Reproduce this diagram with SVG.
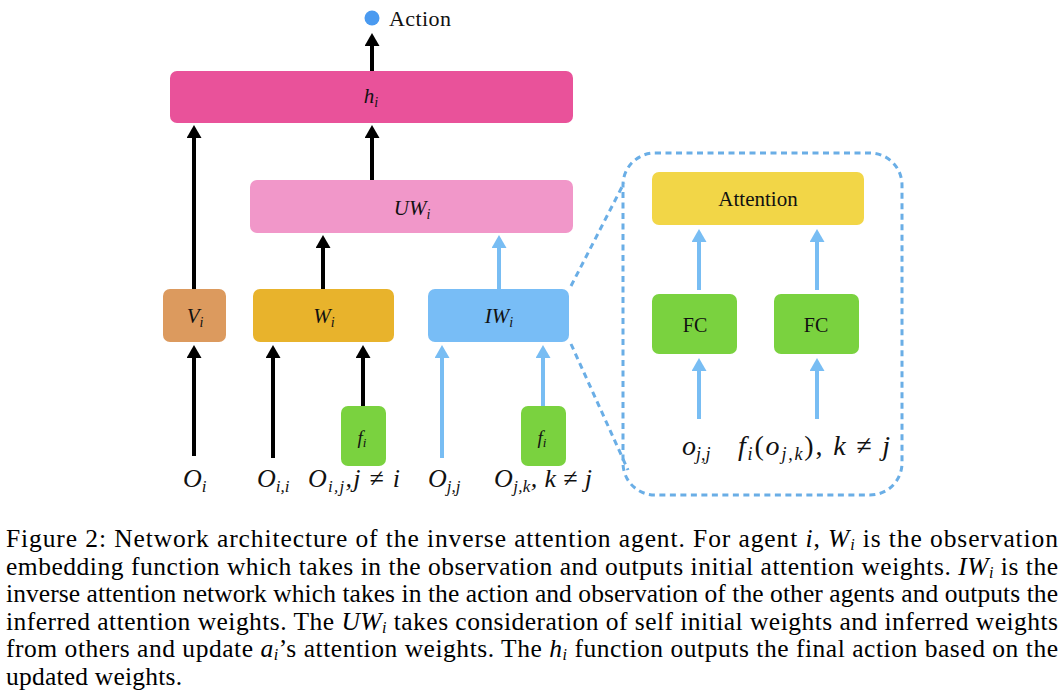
<svg xmlns="http://www.w3.org/2000/svg" width="1061" height="700" viewBox="0 0 1061 700">
<style>
.box{stroke:none}
.lbl{font-family:"Liberation Serif","Times New Roman",serif;font-style:italic;fill:#111}
.rom{font-family:"Liberation Serif","Times New Roman",serif;fill:#111}
.cap{font-family:"Liberation Serif","Times New Roman",serif;font-size:25.5px;fill:#000}
.it{font-style:italic}
.blk{stroke:#000;stroke-width:4;fill:none}
.blu{stroke:#78bdf3;stroke-width:4;fill:none}
.dash{stroke:#6aaee6;stroke-width:3;fill:none;stroke-dasharray:6 4.5}
</style>
<defs>
<marker id="ab" markerUnits="userSpaceOnUse" markerWidth="14" markerHeight="15" refX="1" refY="7.5" orient="auto" viewBox="0 0 13 15"><path d="M0,0 L13,7.5 L0,15 z" fill="#000"/></marker>
<marker id="au" markerUnits="userSpaceOnUse" markerWidth="14" markerHeight="15" refX="1" refY="7.5" orient="auto" viewBox="0 0 13 15"><path d="M0,0 L13,7.5 L0,15 z" fill="#78bdf3"/></marker>
</defs>

<g id="connectors">
<line class="blk" x1="372" y1="71" x2="372" y2="45" marker-end="url(#ab)"/>
<line class="blk" x1="372" y1="180" x2="372" y2="137" marker-end="url(#ab)"/>
<line class="blk" x1="194" y1="289" x2="194" y2="137" marker-end="url(#ab)"/>
<line class="blk" x1="323" y1="289" x2="323" y2="247" marker-end="url(#ab)"/>
<line class="blu" x1="499" y1="289" x2="499" y2="247" marker-end="url(#au)"/>
<line class="blk" x1="194" y1="456" x2="194" y2="357" marker-end="url(#ab)"/>
<line class="blk" x1="273" y1="458" x2="273" y2="357" marker-end="url(#ab)"/>
<line class="blk" x1="363" y1="406" x2="363" y2="357" marker-end="url(#ab)"/>
<line class="blu" x1="442" y1="458" x2="442" y2="357" marker-end="url(#au)"/>
<line class="blu" x1="543" y1="406" x2="543" y2="357" marker-end="url(#au)"/>
<line class="blu" x1="699" y1="290" x2="699" y2="241" marker-end="url(#au)"/>
<line class="blu" x1="817" y1="290" x2="817" y2="241" marker-end="url(#au)"/>
<line class="blu" x1="699" y1="419" x2="699" y2="370" marker-end="url(#au)"/>
<line class="blu" x1="817" y1="419" x2="817" y2="370" marker-end="url(#au)"/>
<line class="dash" x1="571" y1="286" x2="624" y2="183"/>
<line class="dash" x1="571" y1="344" x2="628" y2="470"/>
</g>

<g id="action">
<circle cx="372" cy="18" r="7.5" fill="#4a9af0"/>
<text class="rom" x="389" y="26" font-size="22" textLength="62">Action</text>
</g>

<g id="h">
<rect class="box" x="170" y="71" width="403" height="52" rx="7" fill="#e9529a"/>
<text class="lbl" x="371" y="103" font-size="21" text-anchor="middle">h<tspan font-size="14" dy="4">i</tspan></text>
</g>

<g id="uw">
<rect class="box" x="250" y="180" width="323" height="53" rx="7" fill="#f197c9"/>
<text class="lbl" x="412" y="215" font-size="21" text-anchor="middle">UW<tspan font-size="14" dy="4">i</tspan></text>
</g>

<g id="v">
<rect class="box" x="163" y="289" width="63" height="53" rx="7" fill="#dc9a5e"/>
<text class="lbl" x="195" y="323" font-size="21" text-anchor="middle">V<tspan font-size="14" dy="4">i</tspan></text>
</g>

<g id="w">
<rect class="box" x="253" y="289" width="141" height="53" rx="7" fill="#e8b32c"/>
<text class="lbl" x="324" y="323" font-size="21" text-anchor="middle">W<tspan font-size="14" dy="4">i</tspan></text>
</g>

<g id="iw">
<rect class="box" x="428" y="289" width="141" height="53" rx="7" fill="#78bdf6"/>
<text class="lbl" x="499" y="323" font-size="21" text-anchor="middle">IW<tspan font-size="14" dy="4">i</tspan></text>
</g>

<g id="f1">
<rect class="box" x="341" y="406" width="45" height="60" rx="7" fill="#7ad23f"/>
<text class="lbl" x="362" y="444" font-size="19" text-anchor="middle">f<tspan font-size="13" dy="3">i</tspan></text>
</g>

<g id="f2">
<rect class="box" x="521" y="406" width="45" height="60" rx="7" fill="#7ad23f"/>
<text class="lbl" x="542" y="444" font-size="19" text-anchor="middle">f<tspan font-size="13" dy="3">i</tspan></text>
</g>

<g id="inputs">
<text class="lbl" x="183" y="487" font-size="26">O<tspan font-size="17" dy="5">i</tspan></text>
<text class="lbl" x="257" y="487" font-size="26">O<tspan font-size="17" dy="5">i,i</tspan></text>
<text class="lbl" x="308" y="487" font-size="26" textLength="92">O<tspan font-size="17" dy="5">i,j</tspan><tspan dy="-5">,j ≠ i</tspan></text>
<text class="lbl" x="428" y="487" font-size="26">O<tspan font-size="17" dy="5">j,j</tspan></text>
<text class="lbl" x="494" y="487" font-size="26" textLength="98">O<tspan font-size="17" dy="5">j,k</tspan><tspan dy="-5">, k ≠ j</tspan></text>
</g>

<g id="detail">
<rect class="dash" x="623" y="153" width="279" height="342" rx="32"/>
</g>

<g id="attention">
<rect class="box" x="652" y="172" width="212" height="53" rx="7" fill="#f2d647"/>
<text class="rom" x="758" y="206" font-size="21" text-anchor="middle">Attention</text>
</g>

<g id="fc1">
<rect class="box" x="652" y="294" width="85" height="60" rx="7" fill="#7ad23f"/>
<text class="rom" x="695" y="332" font-size="20" text-anchor="middle">FC</text>
</g>

<g id="fc2">
<rect class="box" x="774" y="294" width="85" height="60" rx="7" fill="#7ad23f"/>
<text class="rom" x="816" y="332" font-size="20" text-anchor="middle">FC</text>
</g>

<g id="detail-inputs">
<text class="lbl" x="682" y="455" font-size="28">o<tspan font-size="18" dy="5">j,j</tspan></text>
<text class="lbl" x="738" y="455" font-size="28" textLength="152">f<tspan font-size="18" dy="5">i</tspan><tspan dy="-5" font-style="normal">(</tspan>o<tspan font-size="18" dy="5">j,k</tspan><tspan dy="-5" font-style="normal">),</tspan> k ≠ j</text>
</g>

<g id="caption">
<text class="cap" x="6" y="547" textLength="1052" lengthAdjust="spacing">Figure 2: Network architecture of the inverse attention agent. For agent <tspan class="it">i</tspan>, <tspan class="it">W</tspan><tspan class="it" font-size="16" dy="3">i</tspan><tspan dy="-3"> is the observation</tspan></text>
<text class="cap" x="6" y="574.5" textLength="1052" lengthAdjust="spacing">embedding function which takes in the observation and outputs initial attention weights. <tspan class="it">IW</tspan><tspan class="it" font-size="16" dy="3">i</tspan><tspan dy="-3"> is the</tspan></text>
<text class="cap" x="6" y="602" textLength="1052" lengthAdjust="spacing">inverse attention network which takes in the action and observation of the other agents and outputs the</text>
<text class="cap" x="6" y="629.5" textLength="1052" lengthAdjust="spacing">inferred attention weights. The <tspan class="it">UW</tspan><tspan class="it" font-size="16" dy="3">i</tspan><tspan dy="-3"> takes consideration of self initial weights and inferred weights</tspan></text>
<text class="cap" x="6" y="657" textLength="1052" lengthAdjust="spacing">from others and update <tspan class="it">a</tspan><tspan class="it" font-size="16" dy="3">i</tspan><tspan dy="-3">’s attention weights. The </tspan><tspan class="it">h</tspan><tspan class="it" font-size="16" dy="3">i</tspan><tspan dy="-3"> function outputs the final action based on the</tspan></text>
<text class="cap" x="6" y="684.5" textLength="176" lengthAdjust="spacing">updated weights.</text>
</g>
</svg>
